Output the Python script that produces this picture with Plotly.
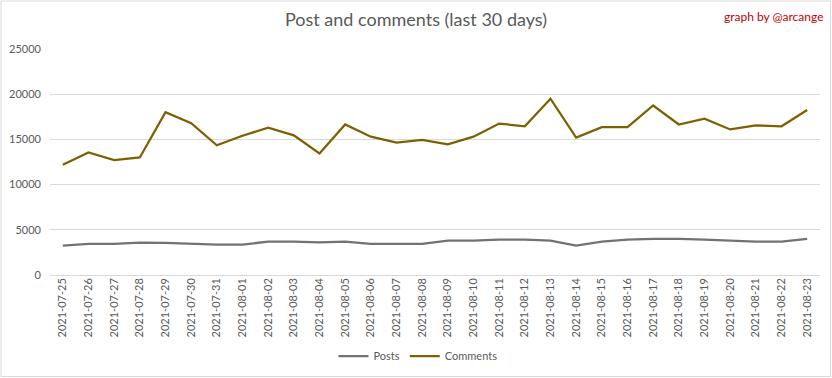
import plotly.graph_objects as go

dates = ["2021-07-25","2021-07-26","2021-07-27","2021-07-28","2021-07-29","2021-07-30","2021-07-31",
         "2021-08-01","2021-08-02","2021-08-03","2021-08-04","2021-08-05","2021-08-06","2021-08-07",
         "2021-08-08","2021-08-09","2021-08-10","2021-08-11","2021-08-12","2021-08-13","2021-08-14",
         "2021-08-15","2021-08-16","2021-08-17","2021-08-18","2021-08-19","2021-08-20","2021-08-21",
         "2021-08-22","2021-08-23"]
posts = [3250, 3450, 3450, 3580, 3560, 3450, 3360, 3360, 3700, 3700, 3600, 3700, 3450, 3450,
         3450, 3800, 3800, 3900, 3900, 3800, 3250, 3680, 3900, 4000, 4000, 3900, 3800, 3700,
         3700, 4000]
comments = [12200, 13550, 12700, 13000, 18000, 16800, 14350, 15400, 16300, 15450, 13450, 16650,
            15300, 14650, 14950, 14450, 15300, 16750, 16450, 19500, 15200, 16350, 16350, 18750,
            16650, 17300, 16100, 16550, 16450, 18250]

FONT = "Lato, 'Open Sans', sans-serif"

fig = go.Figure()
fig.add_trace(go.Scatter(x=dates, y=posts, mode="lines", name="Posts",
                         line=dict(color="#767171", width=2.25)))
fig.add_trace(go.Scatter(x=dates, y=comments, mode="lines", name="Comments",
                         line=dict(color="#7f6000", width=2.25)))

W, H = 832, 378
ml, mr, mt, mb = 50, 12, 49, 103
pw, ph = W - ml - mr, H - mt - mb

fig.update_layout(
    width=W, height=H,
    margin=dict(l=ml, r=mr, t=mt, b=mb, autoexpand=False),
    paper_bgcolor="white", plot_bgcolor="white",
    font=dict(family=FONT, color="#595959", size=11),
    title=dict(text="Post and comments (last 30 days)", x=0.5, xanchor="center",
               y=1 - 20 / H, yanchor="middle",
               font=dict(family=FONT, size=18, color="#595959")),
    showlegend=True,
    legend=dict(orientation="h", x=(418 - ml) / pw, xanchor="center", y=-(356 - 275) / ph,
                yanchor="middle", font=dict(size=11, color="#595959"), itemwidth=30,
                tracegroupgap=0),
    xaxis=dict(type="category", tickangle=-90, showgrid=False, showline=False, automargin=False,
               ticks="", tickfont=dict(size=11, color="#595959"), range=[-0.5, 29.5]),
    yaxis=dict(range=[0, 25000], dtick=5000, tickformat="d", showgrid=True, automargin=False,
               gridcolor="#d9d9d9", gridwidth=1, zeroline=True, zerolinecolor="#d9d9d9",
               zerolinewidth=1, ticks="", tickfont=dict(size=11, color="#595959"),
               ticklabelstandoff=8),
    annotations=[dict(text="graph by @arcange", xref="paper", yref="paper",
                      x=1 + (mr - 6) / pw, xanchor="right", y=1 + (mt - 16) / ph, yanchor="middle",
                      showarrow=False, font=dict(family=FONT, size=12, color="#c00000"))],
    shapes=[dict(type="rect", xref="paper", yref="paper",
                 x0=-(ml - 1) / pw, x1=1 + (mr - 1.5) / pw,
                 y0=-(mb - 1.5) / ph, y1=1 + (mt - 1) / ph,
                 line=dict(color="#d9d9d9", width=1), fillcolor="rgba(0,0,0,0)", layer="below")],
)

fig.write_html("out.html", config={"displayModeBar": False},
               post_script="document.body.style.margin='0';document.body.style.overflow='hidden';")
